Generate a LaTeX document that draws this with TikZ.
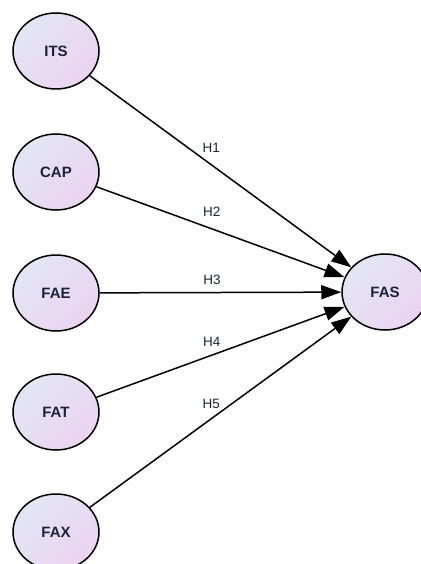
\documentclass[tikz,border=0pt]{standalone}
\usepackage{fontspec}
\setmainfont{Liberation Sans}
\usetikzlibrary{shapes.geometric,arrows.meta}
\definecolor{ovtop}{HTML}{E2E6F4}
\definecolor{ovbot}{HTML}{ECD4F0}
\definecolor{ovtext}{HTML}{1C2238}
\begin{document}
\begin{tikzpicture}[x=1pt,y=-1pt,
  construct/.style={ellipse, draw=black, line width=1.5pt, minimum width=86pt, minimum height=76pt,
    inner sep=0pt, top color=ovtop, bottom color=ovbot, shading angle=45,
    font=\bfseries\fontsize{15}{17}\selectfont, text=ovtext},
  hyp/.style={line width=1.5pt, -{Triangle[length=20pt,width=14pt]}},
  hyplabel/.style={font=\fontsize{13.5}{15}\selectfont, inner sep=0pt, text=ovtext}]
  \useasboundingbox (0,0) rectangle (420,564);
  \node[construct] (FAS) at (385,292) {FAS};
  \foreach \name/\y in {ITS/51,CAP/172,FAE/293,FAT/412,FAX/532}
    \node[construct] (\name) at (56,\y) {\name};
  \foreach \name/\lab/\gap in {ITS/H1/12,CAP/H2/12,FAE/H3/7,FAT/H4/8,FAX/H5/9}
    \draw[hyp] (\name) -- node[hyplabel, pos=0.465, above=\gap pt] (lbl\lab) {\lab} (FAS);
\end{tikzpicture}
\end{document}
